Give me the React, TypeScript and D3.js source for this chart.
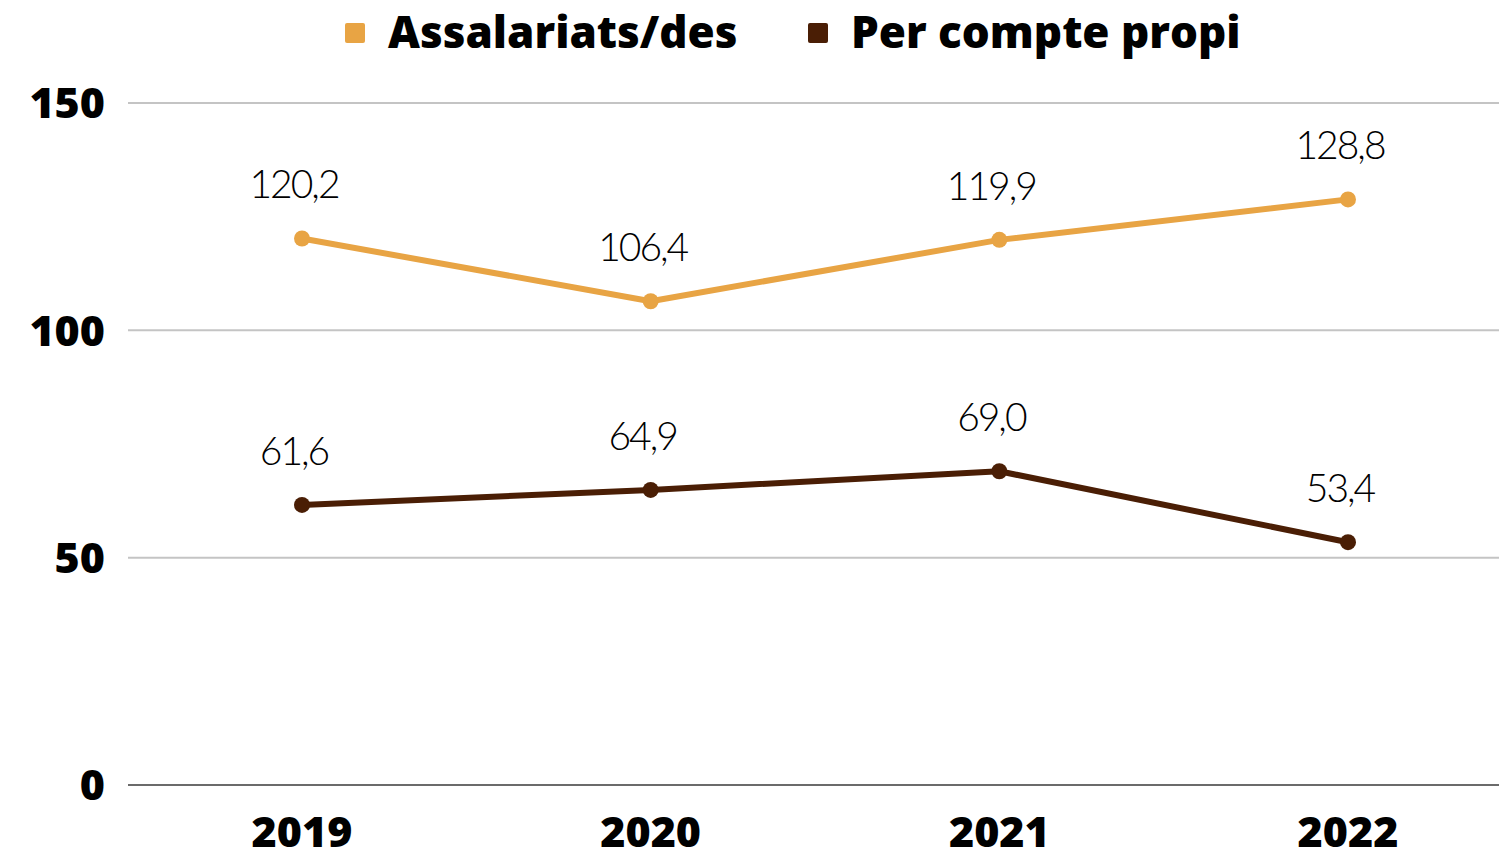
import React from 'react';
import { scaleLinear, scalePoint, line } from 'd3';

const years = ['2019', '2020', '2021', '2022'];
const assalariats = [120.2, 106.4, 119.9, 128.8];
const perCompte = [61.6, 64.9, 69.0, 53.4];
const yTicks = [0, 50, 100, 150];

const series = [
  { name: 'Assalariats/des', values: assalariats, color: '#E8A444' },
  { name: 'Per compte propi', values: perCompte, color: '#4A1E05' },
];

const width = 1499;
const height = 851;
const gridLeft = 128;

const boldFont = '"Open Sans", sans-serif';
const labelFont = 'Lato, "Noto Sans", sans-serif';

const fmt = (v: number) => v.toFixed(1).replace('.', ',');

export default function App() {
  const xScale = scalePoint<string>().domain(years).range([302, 1348]);
  const yScale = scaleLinear().domain([0, 150]).range([785, 103]);

  const lineGen = line<number>()
    .x((_, i) => xScale(years[i]) as number)
    .y(d => yScale(d));

  const legendX = [345, 808];

  return (
    <svg
      width={width}
      height={height}
      style={{ position: 'absolute', left: 0, top: 0, background: '#fff' }}>
      {yTicks.map(t => (
        <g key={t}>
          <line
            x1={gridLeft}
            x2={width}
            y1={yScale(t)}
            y2={yScale(t)}
            stroke={t === 0 ? '#6b6b6b' : '#c4c4c4'}
            strokeWidth={2}
          />
          <text
            x={105}
            y={yScale(t)}
            dy='.36em'
            textAnchor='end'
            fontFamily={boldFont}
            fontWeight={800}
            fontSize={43}
            fill='#000'>
            {t}
          </text>
        </g>
      ))}
      {years.map(y => (
        <text
          key={y}
          x={xScale(y)}
          y={847}
          textAnchor='middle'
          fontFamily={boldFont}
          fontWeight={800}
          fontSize={43}
          fill='#000'>
          {y}
        </text>
      ))}
      {series.map(s => (
        <g key={s.name}>
          <path
            d={lineGen(s.values) || ''}
            fill='none'
            stroke={s.color}
            strokeWidth={6}
            strokeLinejoin='round'
          />
          {s.values.map((v, i) => (
            <circle
              key={i}
              cx={xScale(years[i])}
              cy={yScale(v)}
              r={8}
              fill={s.color}
            />
          ))}
          {s.values.map((v, i) => (
            <text
              key={'l' + i}
              x={(xScale(years[i]) as number) - 8}
              y={yScale(v) - 40}
              textAnchor='middle'
              fontFamily={labelFont}
              fontWeight={300}
              fontSize={39}
              letterSpacing={-2}
              fill='#000'>
              {fmt(v)}
            </text>
          ))}
        </g>
      ))}
      {series.map((s, i) => (
        <g key={'lg' + s.name} transform={`translate(${legendX[i]}, 0)`}>
          <rect x={0} y={23} width={20} height={20} rx={2} fill={s.color} />
          <text
            x={43}
            y={48}
            fontFamily={boldFont}
            fontWeight={800}
            fontSize={44}
            fill='#000'>
            {s.name}
          </text>
        </g>
      ))}
    </svg>
  );
}
